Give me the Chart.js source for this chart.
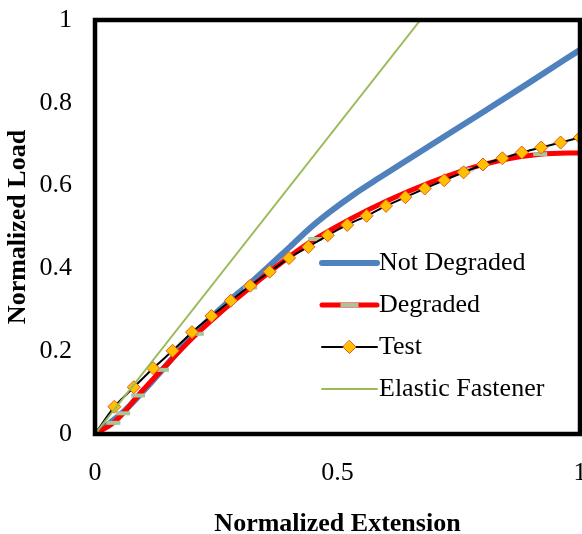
<!DOCTYPE html>
<html>
<head>
<meta charset="utf-8">
<script src="https://cdn.jsdelivr.net/npm/chart.js@4/dist/chart.umd.min.js"></script>
<style>
  html, body { margin: 0; padding: 0; background: #fff; }
</style>
</head>
<body>
<canvas id="chart" width="582" height="534"></canvas>
<script>
// ----- data -----
const xTickLabels = ['0', '0.5', '1'];
const yTickLabels = ['0', '0.2', '0.4', '0.6', '0.8', '1'];

const notDegradedX = [0, 0.06, 0.12, 0.2, 0.28, 0.32, 0.361, 0.402, 0.443, 0.485, 0.533, 0.588, 0.691, 0.794, 0.897, 1.0];
const notDegradedY = [0, 0.055, 0.13, 0.236, 0.325, 0.364, 0.408, 0.452, 0.497, 0.537, 0.578, 0.62, 0.697, 0.773, 0.85, 0.928];

const degradedX = [0, 0.038, 0.058, 0.089, 0.138, 0.21, 0.32, 0.454, 0.766, 0.918, 1.0];
const degradedY = [0, 0.027, 0.05, 0.093, 0.155, 0.242, 0.354, 0.471, 0.639, 0.676, 0.679];

const testX = [0, 0.04, 0.08, 0.12, 0.16, 0.2, 0.24, 0.28, 0.32, 0.36, 0.4, 0.44, 0.48,
               0.52, 0.56, 0.6, 0.64, 0.68, 0.72, 0.76, 0.8, 0.84, 0.88, 0.92, 0.96, 1.0];
const testY = [0, 0.066, 0.113, 0.159, 0.201, 0.246, 0.285, 0.322, 0.358, 0.392, 0.425, 0.452, 0.48,
               0.505, 0.527, 0.551, 0.572, 0.593, 0.613, 0.632, 0.651, 0.666, 0.68, 0.692, 0.704, 0.716];

const elasticX = [0, 0.671];
const elasticY = [0, 1.0];

const toPoints = (xs, ys) => xs.map((x, i) => ({ x: x, y: ys[i] }));

const FONT = '"Liberation Serif", "Times New Roman", serif';

// thick black frame round the plot area
const frame = {
    id: 'frame',
    afterDraw(chart) {
        const { ctx, chartArea: a } = chart;
        ctx.save();
        ctx.strokeStyle = '#000';
        ctx.lineWidth = 4.5;
        ctx.strokeRect(a.left, a.top, a.right - a.left, a.bottom - a.top);
        ctx.restore();
    }
};

// legend drawn inside the plot, no box
const innerLegend = {
    id: 'innerLegend',
    afterDatasetsDraw(chart) {
        const ctx = chart.ctx;
        const x0 = 322, x1 = 377, y0 = 263, rowH = 42;
        ctx.save();
        ctx.font = '26px ' + FONT;
        ctx.textBaseline = 'middle';
        ctx.textAlign = 'left';
        chart.data.datasets.forEach((ds, i) => {
            const y = y0 + i * rowH;
            const mid = (x0 + x1) / 2;
            ctx.lineCap = 'round';
            ctx.strokeStyle = ds.borderColor;
            ctx.lineWidth = ds.borderWidth;
            ctx.beginPath();
            ctx.moveTo(x0, y);
            ctx.lineTo(x1, y);
            ctx.stroke();
            if (ds.pointStyle === 'line') {
                ctx.lineCap = 'butt';
                ctx.strokeStyle = ds.pointBorderColor;
                ctx.lineWidth = ds.pointBorderWidth;
                ctx.beginPath();
                ctx.moveTo(mid - 9, y);
                ctx.lineTo(mid + 9, y);
                ctx.stroke();
            } else if (ds.pointStyle === 'rectRot') {
                const r = ds.pointRadius;
                ctx.fillStyle = ds.pointBackgroundColor;
                ctx.strokeStyle = ds.pointBorderColor;
                ctx.lineWidth = ds.pointBorderWidth;
                ctx.beginPath();
                ctx.moveTo(mid, y - r);
                ctx.lineTo(mid + r, y);
                ctx.lineTo(mid, y + r);
                ctx.lineTo(mid - r, y);
                ctx.closePath();
                ctx.fill();
                ctx.stroke();
            }
            ctx.fillStyle = '#000';
            ctx.fillText(ds.label, x1 + 2, y);
        });
        ctx.restore();
    }
};

new Chart(document.getElementById('chart'), {
    type: 'scatter',
    data: {
        datasets: [
            {
                label: 'Not Degraded',
                data: toPoints(notDegradedX, notDegradedY),
                showLine: true,
                borderColor: '#4F81BD',
                borderWidth: 6,
                borderCapStyle: 'round',
                borderJoinStyle: 'round',
                cubicInterpolationMode: 'monotone',
                pointRadius: 0,
                order: 4
            },
            {
                label: 'Degraded',
                data: toPoints(degradedX, degradedY),
                showLine: true,
                borderColor: '#FF0000',
                borderWidth: 5,
                borderCapStyle: 'round',
                borderJoinStyle: 'round',
                cubicInterpolationMode: 'monotone',
                pointStyle: 'line',
                pointRadius: (c) => (c.dataIndex === 0 || c.dataIndex === degradedX.length - 1) ? 0 : 7,
                pointBorderColor: '#A9C59B',
                pointBorderWidth: 4,
                order: 3
            },
            {
                label: 'Test',
                data: toPoints(testX, testY),
                showLine: true,
                borderColor: '#000000',
                borderWidth: 2,
                tension: 0.2,
                pointStyle: 'rectRot',
                pointRadius: 6.5,
                pointBackgroundColor: '#FFC000',
                pointBorderColor: '#E8561E',
                pointBorderWidth: 1,
                order: 2
            },
            {
                label: 'Elastic Fastener',
                data: toPoints(elasticX, elasticY),
                showLine: true,
                borderColor: '#9BBB59',
                borderWidth: 2,
                pointRadius: 0,
                order: 1
            }
        ]
    },
    options: {
        responsive: false,
        animation: false,
        events: [],
        layout: { autoPadding: false, padding: { top: 20, right: 2, left: 0, bottom: 0 } },
        plugins: {
            legend: { display: false },
            tooltip: { enabled: false }
        },
        scales: {
            x: {
                type: 'linear',
                min: 0,
                max: 1,
                grid: { display: false, drawTicks: false },
                border: { display: false },
                ticks: {
                    stepSize: 0.5,
                    padding: 24,
                    color: '#000',
                    font: { family: FONT, size: 26 },
                    maxRotation: 0,
                    callback: (v, i) => xTickLabels[i]
                },
                title: {
                    display: true,
                    text: 'Normalized Extension',
                    color: '#000',
                    font: { family: FONT, size: 26, weight: 'bold' },
                    padding: { top: 0, bottom: -6 }
                },
                afterFit(axis) {
                    axis.height = 100;
                    axis.paddingLeft = 0;
                    axis.paddingRight = 0;
                }
            },
            y: {
                type: 'linear',
                min: 0,
                max: 1,
                grid: { display: false, drawTicks: false },
                border: { display: false },
                ticks: {
                    stepSize: 0.2,
                    padding: 23,
                    color: '#000',
                    font: { family: FONT, size: 26 },
                    callback: (v, i) => yTickLabels[i]
                },
                title: {
                    display: true,
                    text: 'Normalized Load',
                    color: '#000',
                    font: { family: FONT, size: 26, weight: 'bold' },
                    padding: { top: 3, bottom: 0 }
                },
                afterFit(axis) {
                    axis.width = 95;
                    axis.paddingTop = 0;
                    axis.paddingBottom = 0;
                }
            }
        }
    },
    plugins: [frame, innerLegend]
});
</script>
</body>
</html>
